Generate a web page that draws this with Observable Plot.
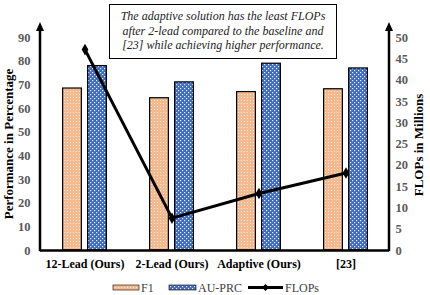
<!DOCTYPE html>
<html>
<head>
<meta charset="utf-8">
<script src="https://cdn.jsdelivr.net/npm/d3@7"></script>
<script src="https://cdn.jsdelivr.net/npm/@observablehq/plot@0.6"></script>
<style>
  html, body { margin: 0; padding: 0; background: #fff; }
  #wrap { position: relative; width: 430px; height: 295px; overflow: hidden; font-family: "Liberation Serif", serif; }
  #note { position: absolute; left: 109px; top: 4px; width: 226px; height: 49px; border: 1.3px solid #000; background: #fff;
          font-family: "Liberation Serif", serif; font-style: italic; font-size: 12px; line-height: 14.5px; text-align: center; color: #222; padding-top: 4px; box-sizing: content-box; white-space: nowrap; }
</style>
</head>
<body>
<div id="wrap"></div>
<script>
const categories = ["12-Lead (Ours)", "2-Lead (Ours)", "Adaptive (Ours)", "[23]"];
const f1 = [68.5, 64.4, 67.0, 68.2];
const auprc = [78.0, 71.1, 79.0, 77.0];
const flops = [47.2, 7.6, 13.4, 18.2];
const leftTicks = [0, 10, 20, 30, 40, 50, 60, 70, 80, 90];
const rightTicks = [0, 5, 10, 15, 20, 25, 30, 35, 40, 45, 50];
const seriesNames = ["F1", "AU-PRC", "FLOPs"];
const noteLines = ["The adaptive solution has the least FLOPs", "after 2-lead compared to the baseline and", "[23] while achieving higher performance."];

const k = 90 / 50; // right axis (0–50) shares pixel span with left axis (0–90)
const rows = categories.map((c, i) => ({cat: c, f1: f1[i], auprc: auprc[i], flops: flops[i] * k}));

const font = "Liberation Serif, serif";
const bandHalf = 349 / 8;

const chart = Plot.plot({
  width: 430,
  height: 280,
  marginLeft: 40,
  marginRight: 41,
  marginTop: 23,
  marginBottom: 30,
  style: {fontFamily: font, fontSize: "12px", background: "transparent"},
  x: {domain: categories, padding: 0},
  y: {domain: [0, 96]},
  marks: [
    Plot.barY(rows, {x: "cat", y: "f1", fill: "url(#patF1)", stroke: "#000", strokeWidth: 1.2,
      insetLeft: bandHalf - 22, insetRight: bandHalf + 3}),
    Plot.barY(rows, {x: "cat", y: "auprc", fill: "url(#patAU)", stroke: "#000", strokeWidth: 1.2,
      insetLeft: bandHalf + 3, insetRight: bandHalf - 22}),
    Plot.ruleY([0], {stroke: "#000", strokeWidth: 2.5}),
    Plot.line(rows, {x: "cat", y: "flops", stroke: "#000", strokeWidth: 3}),
    Plot.dot(rows, {x: "cat", y: "flops", symbol: "diamond", r: 3.5, fill: "#000"}),
    Plot.axisY({ticks: leftTicks, tickSize: 0, tickPadding: 10, fontWeight: "bold", fill: "#595959", fontSize: 12.5, label: null}),
    Plot.axisY(rightTicks.map(v => v * k), {anchor: "right", tickSize: 0, tickPadding: 6, tickFormat: d => Math.round(d / k),
      fontWeight: "bold", fill: "#595959", fontSize: 12.5, label: null}),
    Plot.axisX({tickSize: 0, tickPadding: 9, fontWeight: "bold", fill: "#000", fontSize: 12, label: null}),
    Plot.text(["Performance in Percentage"], {frameAnchor: "left", textAnchor: "middle", rotate: -90, dx: -32, dy: 7, fontWeight: "bold", fontSize: 13, fill: "#000"}),
    Plot.text(["FLOPs in Millions"], {frameAnchor: "right", textAnchor: "middle", rotate: -90, dx: 29, dy: 8, fontWeight: "bold", fontSize: 13, fill: "#000"})
  ]
});

function addPatterns(defs, suffix) {
  const p1 = defs.append("pattern").attr("id", "patF1" + suffix).attr("patternUnits", "userSpaceOnUse").attr("width", 3).attr("height", 3);
  p1.append("rect").attr("width", 3).attr("height", 3).attr("fill", "#f4b98f");
  p1.append("rect").attr("x", 1).attr("y", 1).attr("width", 1).attr("height", 1).attr("fill", "#fde9da");
  const p2 = defs.append("pattern").attr("id", "patAU" + suffix).attr("patternUnits", "userSpaceOnUse").attr("width", 4).attr("height", 4);
  p2.append("rect").attr("width", 4).attr("height", 4).attr("fill", "#3f6cc0");
  p2.append("rect").attr("width", 1.2).attr("height", 1.2).attr("fill", "#e8eefa");
  p2.append("rect").attr("x", 2).attr("y", 2).attr("width", 1.2).attr("height", 1.2).attr("fill", "#e8eefa");
}

const svg = d3.select(chart);
addPatterns(svg.insert("defs", ":first-child"), "");

// axis lines with arrows, from the scales
const ys = chart.scale("y");
const xr = chart.scale("x").range;
const y0 = ys.apply(0), yTop = ys.apply(96) - 1;
const g = svg.append("g");
for (const xx of [xr[0], xr[1]]) {
  g.append("line").attr("x1", xx).attr("x2", xx).attr("y1", y0 + 1.2).attr("y2", yTop + 6).attr("stroke", "#000").attr("stroke-width", 2.5);
  g.append("path").attr("d", `M${xx - 4},${yTop + 9}L${xx},${yTop}L${xx + 4},${yTop + 9}Z`).attr("fill", "#000");
}

const wrap = document.getElementById("wrap");
chart.style.position = "absolute";
chart.style.left = "0px";
chart.style.top = "0px";
wrap.appendChild(chart);

const nd = document.createElement("div");
nd.id = "note";
noteLines.forEach((t, i) => {
  if (i) nd.appendChild(document.createElement("br"));
  nd.appendChild(document.createTextNode(t));
});
wrap.appendChild(nd);

// legend
const leg = d3.create("svg").attr("width", 430).attr("height", 15)
  .style("position", "absolute").style("left", "0px").style("top", "280px");
addPatterns(leg.append("defs"), "L");
const items = [
  {name: seriesNames[0], type: "rect", fill: "url(#patF1L)", x: 113, w: 26},
  {name: seriesNames[1], type: "rect", fill: "url(#patAUL)", x: 169, w: 27},
  {name: seriesNames[2], type: "line", x: 248, w: 35}
];
const cy = 7.5;
for (const it of items) {
  if (it.type === "rect") {
    leg.append("rect").attr("x", it.x).attr("y", cy - 2.5).attr("width", it.w).attr("height", 5).attr("fill", it.fill).attr("stroke", "#000").attr("stroke-width", 0.6);
  } else {
    const m = it.x + it.w / 2;
    leg.append("line").attr("x1", it.x).attr("x2", it.x + it.w).attr("y1", cy).attr("y2", cy).attr("stroke", "#000").attr("stroke-width", 3);
    leg.append("path").attr("d", `M${m - 3.5},${cy}L${m},${cy - 3.5}L${m + 3.5},${cy}L${m},${cy + 3.5}Z`).attr("fill", "#000");
  }
  leg.append("text").attr("x", it.x + it.w + 2).attr("y", cy).attr("dy", "0.35em").attr("font-family", font).attr("font-size", 12).attr("fill", "#404040").text(it.name);
}
wrap.appendChild(leg.node());
</script>
</body>
</html>
